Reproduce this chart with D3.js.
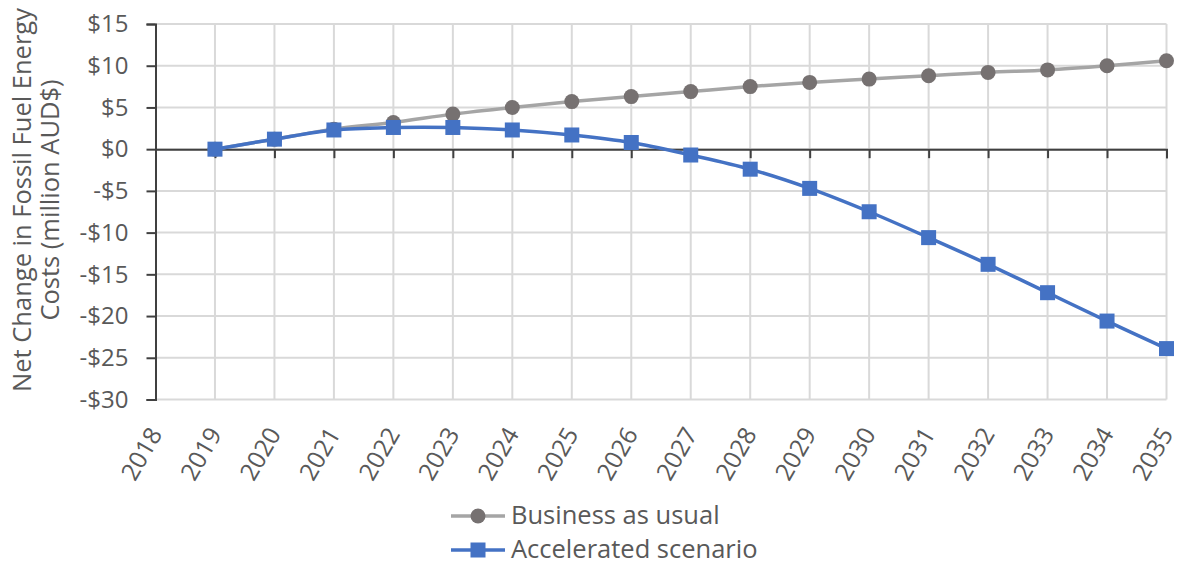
<!DOCTYPE html>
<html><head><meta charset="utf-8">
<script src="https://cdn.jsdelivr.net/npm/d3@7"></script>
<style>html,body{margin:0;padding:0;background:#fff;}svg{display:block;font-family:"Open Sans",sans-serif;}</style>
</head><body>
<svg id="c" width="1180" height="565"></svg>
<script>
const years = [2018,2019,2020,2021,2022,2023,2024,2025,2026,2027,2028,2029,2030,2031,2032,2033,2034,2035];
const dataYears = [2019,2020,2021,2022,2023,2024,2025,2026,2027,2028,2029,2030,2031,2032,2033,2034,2035];
const businessAsUsual = [0,1.2,2.4,3.2,4.2,5.0,5.7,6.3,6.9,7.5,8.0,8.4,8.8,9.2,9.5,10.0,10.6];
const accelerated = [0,1.2,2.3,2.6,2.6,2.3,1.7,0.8,-0.7,-2.4,-4.7,-7.5,-10.6,-13.8,-17.2,-20.6,-23.9];
const yTicks = [15,10,5,0,-5,-10,-15,-20,-25,-30];
const seriesNames = ["Business as usual","Accelerated scenario"];
const yTitle = ["Net Change in Fossil Fuel Energy","Costs (million AUD$)"];

const svg = d3.select("#c");
const x = d3.scaleLinear().domain([2018,2035]).range([155.5,1166.5]);
const y = d3.scaleLinear().domain([-30,15]).range([399.5,24]);
const textCol = "#595959", axisCol = "#404040", gridCol = "#d9d9d9";
const fs = 25.5;

// gridlines
const g = svg.append("g");
g.selectAll("line.h").data(yTicks).join("line")
  .attr("x1", x(2018)).attr("x2", x(2035)).attr("y1", d=>y(d)).attr("y2", d=>y(d))
  .attr("stroke", gridCol).attr("stroke-width", 2);
g.selectAll("line.v").data(dataYears).join("line")
  .attr("x1", d=>x(d)).attr("x2", d=>x(d)).attr("y1", y(15)).attr("y2", y(-30))
  .attr("stroke", gridCol).attr("stroke-width", 2);

// y axis
const yAxis = d3.axisLeft(y).tickValues(yTicks).tickSize(9).tickPadding(18)
  .tickFormat(d => (d<0?"-":"") + "$" + Math.abs(d));
const ya = svg.append("g").attr("transform", `translate(${x(2018)},0)`).call(yAxis);
ya.select(".domain").attr("stroke", axisCol).attr("stroke-width", 2);
ya.selectAll(".tick line").attr("stroke", axisCol).attr("stroke-width", 2);
ya.selectAll(".tick text").attr("fill", textCol).attr("font-size", 24).attr("font-family", "Open Sans");

// x axis at zero
const xAxis = d3.axisBottom(x).tickValues(years).tickSize(9).tickFormat("");
const xa = svg.append("g").attr("transform", `translate(0,${y(0)})`).call(xAxis);
xa.select(".domain").attr("stroke", axisCol).attr("stroke-width", 2);
xa.selectAll(".tick line").attr("stroke", axisCol).attr("stroke-width", 2);
xa.selectAll(".tick").filter(d=>d===2018).remove();

// x labels rotated
svg.append("g").selectAll("text").data(years).join("text")
  .attr("transform", d=>`translate(${x(d)},${y(-30)+30}) rotate(-60)`)
  .attr("text-anchor","end").attr("dy","0.35em")
  .attr("fill", textCol).attr("font-size", 24.5).text(d=>d);

// y title
const yt = svg.append("text").attr("transform", "translate(22,200) rotate(-90)")
  .attr("text-anchor","middle").attr("fill", textCol).attr("font-size", fs);
yt.append("tspan").attr("x",0).attr("dy","0.35em").text(yTitle[0]);
yt.append("tspan").attr("x",0).attr("dy","1.1em").text(yTitle[1]);

const line = d3.line().x((d,i)=>x(dataYears[i])).y(d=>y(d)).curve(d3.curveCatmullRom.alpha(0));

const greyLine = "#a5a5a5", greyMark = "#767171", blue = "#4472c4";
svg.append("path").datum(businessAsUsual).attr("d", line).attr("fill","none").attr("stroke", greyLine).attr("stroke-width", 3.5);
svg.append("g").selectAll("circle").data(businessAsUsual).join("circle")
  .attr("cx",(d,i)=>x(dataYears[i])).attr("cy", d=>y(d)).attr("r", 7.5).attr("fill", greyMark);

svg.append("path").datum(accelerated).attr("d", line).attr("fill","none").attr("stroke", blue).attr("stroke-width", 3.5);
svg.append("g").selectAll("rect").data(accelerated).join("rect")
  .attr("x",(d,i)=>x(dataYears[i])-7.5).attr("y", d=>y(d)-7.5).attr("width",15).attr("height",15).attr("fill", blue);

// legend
const leg = svg.append("g");
const legRows = [{name:seriesNames[0], y:516, c:greyLine, m:greyMark, shape:"c"},{name:seriesNames[1], y:550, c:blue, m:blue, shape:"s"}];
legRows.forEach(r=>{
  leg.append("line").attr("x1",451).attr("x2",505).attr("y1",r.y).attr("y2",r.y).attr("stroke",r.c).attr("stroke-width",3.5);
  if(r.shape==="c") leg.append("circle").attr("cx",478).attr("cy",r.y).attr("r",7.5).attr("fill",r.m);
  else leg.append("rect").attr("x",470.5).attr("y",r.y-7.5).attr("width",15).attr("height",15).attr("fill",r.m);
  leg.append("text").attr("x",511).attr("y",r.y).attr("dy","0.3em").attr("fill",textCol).attr("font-size",fs).text(r.name);
});
</script>
</body></html>
